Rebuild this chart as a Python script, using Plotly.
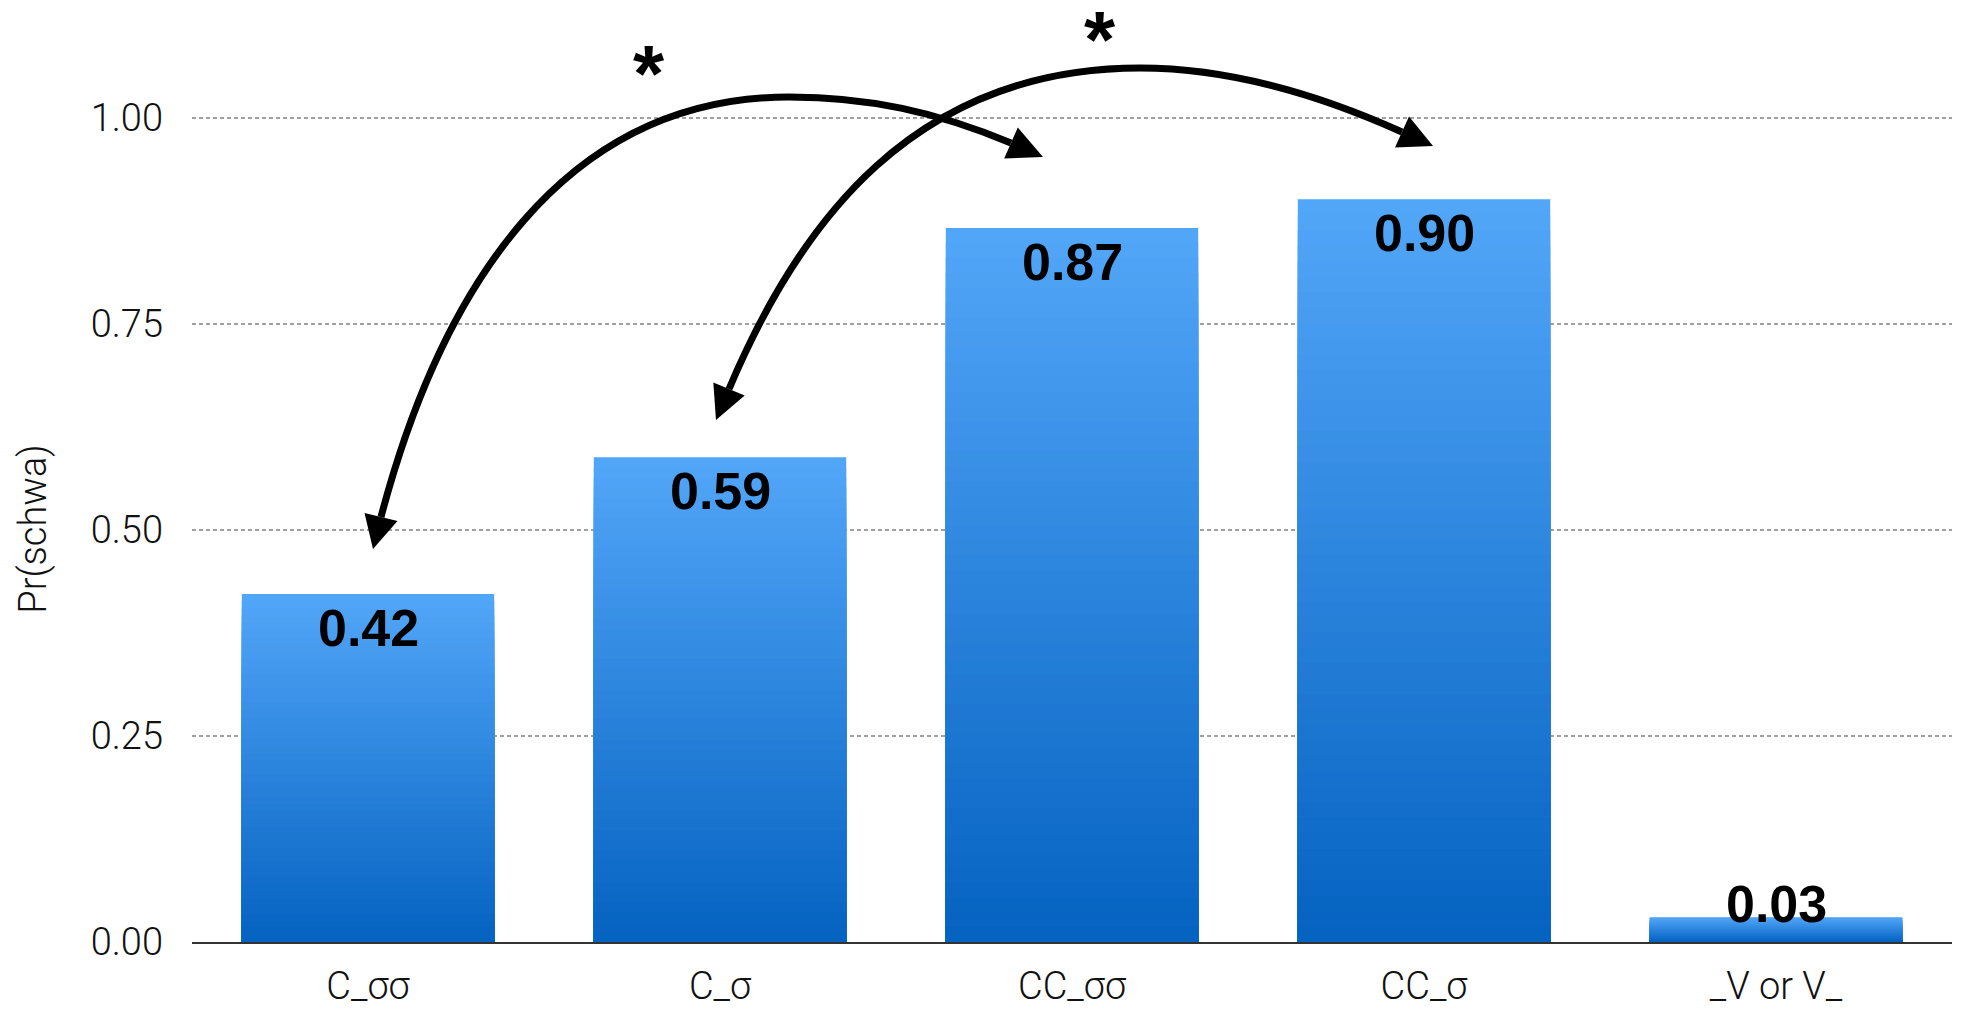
import plotly.graph_objects as go

# ---------------- data ----------------
categories = ["C_σσ", "C_σ", "CC_σσ", "CC_σ", "_V or V_"]
values = [0.422, 0.588, 0.866, 0.901, 0.030]
value_labels = ["0.42", "0.59", "0.87", "0.90", "0.03"]
y_tick_vals = [0.0, 0.25, 0.50, 0.75, 1.00]
y_tick_text = ["0.00", "0.25", "0.50", "0.75", "1.00"]
y_title = "Pr(schwa)"
significance_marks = ["*", "*"]

# ---------------- layout geometry (page pixels) ----------------
PAGE_W, PAGE_H = 1963, 1011
OFF = 8                            # default body margin of the html page
W, H = PAGE_W - OFF, PAGE_H - OFF  # figure size
Y_MAX = 1.002
L, R, B = 192, 1952, 942           # plot area in page pixels
UNIT = 824.0                       # pixels per 1.0 on the y axis
T = round(B - UNIT * Y_MAX)
PW, PH = R - L, B - T


def px(x):
    return (x - L) / PW


def py(y):
    return (B - y) / PH


LIGHT = (82, 166, 248)
DARK = (5, 99, 193)
N_LAYERS = 48

fig = go.Figure()

# gradient bars: overlaid bar traces, each bar fading light (top) -> dark (bottom)
for j in range(N_LAYERS):
    f = j / (N_LAYERS - 1)
    col = tuple(round(LIGHT[k] * (1 - f) + DARK[k] * f) for k in range(3))
    frac = 1 - j / N_LAYERS
    fig.add_trace(go.Bar(
        x=categories,
        y=[v * frac for v in values],
        marker=dict(color="rgb(%d,%d,%d)" % col, line=dict(width=0)),
        hoverinfo="skip" if j else "y",
        showlegend=False,
    ))

label_font = dict(family="Liberation Sans, Arial", size=52, color="black", weight="bold")

# value labels
annotations = []
for cat, v, lab in zip(categories, values, value_labels):
    bar_px = v * UNIT
    if bar_px > 70:
        annotations.append(dict(x=cat, y=v, xref="x", yref="y", text=lab,
                                showarrow=False, yanchor="top", yshift=-3,
                                font=label_font))
    else:
        annotations.append(dict(x=cat, y=0, xref="x", yref="y", text=lab,
                                showarrow=False, yanchor="bottom", yshift=7,
                                font=label_font))

# ---------------- comparison arrows (decoration, page-pixel geometry) ----------------
arrow_curves = [
    # start (base of left head), ctrl, ctrl, peak, ctrl, ctrl, end (base of right head)
    [(381, 517), (442, 286), (565, 97), (789, 97), (869, 97), (937, 112), (1011, 143)],
    [(729, 389), (799, 223), (914, 68), (1140, 68), (1230, 68), (1320, 95), (1402, 132)],
]
arrow_heads = [
    # (tip, base centre)
    ((373, 549), (381, 517)),
    ((1043, 157), (1011, 143)),
    ((716, 420), (729, 389)),
    ((1433, 146), (1402, 132)),
]
star_pos = [(649, 62), (1100, 27)]

shapes = []
for pts in arrow_curves:
    p = [(px(a), py(b)) for a, b in pts]
    path = "M %f,%f C %f,%f %f,%f %f,%f C %f,%f %f,%f %f,%f" % (
        p[0][0], p[0][1], p[1][0], p[1][1], p[2][0], p[2][1], p[3][0], p[3][1],
        p[4][0], p[4][1], p[5][0], p[5][1], p[6][0], p[6][1])
    shapes.append(dict(type="path", path=path, xref="paper", yref="paper",
                       line=dict(color="black", width=7), layer="above"))

HALF_W = 17
for (tx, ty), (bx, by) in arrow_heads:
    dx, dy = tx - bx, ty - by
    ln = (dx * dx + dy * dy) ** 0.5
    nx, ny = -dy / ln, dx / ln
    c1 = (bx + nx * HALF_W, by + ny * HALF_W)
    c2 = (bx - nx * HALF_W, by - ny * HALF_W)
    path = "M %f,%f L %f,%f L %f,%f Z" % (px(tx), py(ty), px(c1[0]), py(c1[1]),
                                          px(c2[0]), py(c2[1]))
    shapes.append(dict(type="path", path=path, xref="paper", yref="paper",
                       fillcolor="black", line=dict(width=0), layer="above"))

for (sx, sy), mark in zip(star_pos, significance_marks):
    annotations.append(dict(x=px(sx), y=py(sy), xref="paper", yref="paper",
                            text=mark, showarrow=False, xanchor="center",
                            yanchor="middle", yshift=-12,
                            font=dict(family="Liberation Sans, Arial", size=80,
                                      color="black", weight="bold")))

light_font = dict(family="Roboto, Liberation Sans", size=38, color="#111111", weight=300)

fig.update_layout(
    width=W, height=H,
    margin=dict(l=L - OFF, r=PAGE_W - R, t=T - OFF, b=PAGE_H - B, pad=0, autoexpand=False),
    paper_bgcolor="white", plot_bgcolor="white",
    barmode="overlay", bargap=0.283,
    showlegend=False,
    shapes=shapes,
    annotations=annotations,
    xaxis=dict(
        type="category", categoryorder="array", categoryarray=categories,
        range=[-0.5, len(categories) - 0.5],
        showgrid=False, zeroline=False, automargin=False,
        showline=True, linecolor="#333333", linewidth=2,
        ticks="", tickfont=light_font, ticklabelstandoff=9,
        layer="below traces",
    ),
    yaxis=dict(
        range=[0, Y_MAX], tickvals=y_tick_vals, ticktext=y_tick_text,
        showgrid=True, gridcolor="#a0a0a0", gridwidth=1.5, griddash="4px,3px",
        zeroline=False, showline=False, ticks="", automargin=False,
        tickfont=light_font, ticklabelstandoff=28,
        title=dict(text=y_title, font=light_font, standoff=32),
        layer="below traces",
    ),
)

fig.write_html("out.html")
